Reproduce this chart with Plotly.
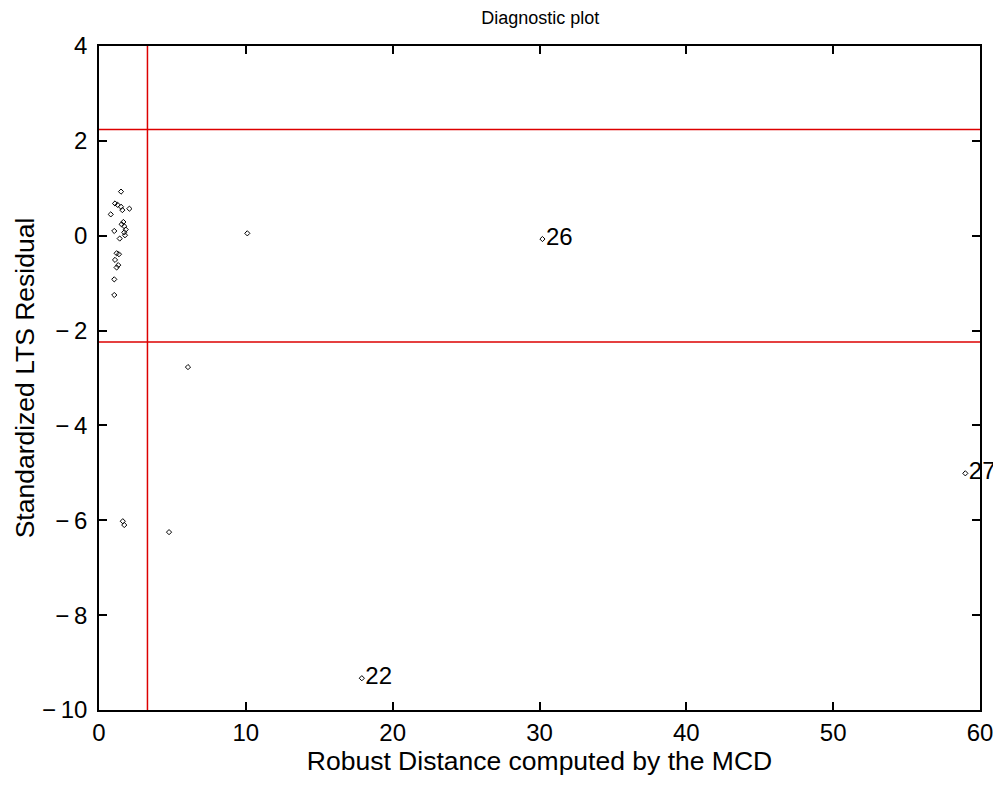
import plotly.graph_objects as go

# Robust distances (x) and standardized LTS residuals (y)
rd = [1.50, 1.09, 1.27, 1.50, 1.59, 2.07, 0.80, 1.66, 1.54, 1.72, 1.04, 1.82, 1.72,
      1.41, 1.77, 1.20, 1.36, 1.09, 1.31, 1.20, 1.04, 1.04,
      10.1, 6.06, 4.77, 1.62, 1.72]
res = [0.93, 0.68, 0.65, 0.61, 0.54, 0.57, 0.45, 0.29, 0.24, 0.20, 0.10, 0.13, 0.07,
       -0.06, 0.01, -0.37, -0.39, -0.51, -0.62, -0.67, -0.92, -1.25,
       0.05, -2.77, -6.25, -6.02, -6.10]

# Labelled outliers
lab_names = ["22", "26", "27"]
lab_x = [17.9, 30.2, 59.0]
lab_y = [-9.33, -0.07, -5.01]

cut_res = 2.24
cut_rd = 3.3

x_ticks = [0, 10, 20, 30, 40, 50, 60]
y_ticks = [-10, -8, -6, -4, -2, 0, 2, 4]
y_ticktext = [("\u2212\u2009" + str(abs(v))) if v < 0 else str(v) for v in y_ticks]

FONT = "Liberation Sans, Arial"

fig = go.Figure()
fig.add_trace(go.Scatter(x=rd, y=res, mode="markers",
                         marker=dict(symbol="diamond-open", size=4, color="black",
                                     line=dict(width=1, color="black")),
                         showlegend=False, hoverinfo="skip"))
fig.add_trace(go.Scatter(x=lab_x, y=lab_y, mode="markers+text", text=lab_names,
                         textposition="middle right",
                         textfont=dict(family=FONT, size=24, color="black"),
                         marker=dict(symbol="diamond-open", size=4, color="black",
                                     line=dict(width=1, color="black")),
                         showlegend=False, hoverinfo="skip", cliponaxis=False))

for v in [cut_res, -cut_res]:
    fig.add_shape(type="line", xref="paper", x0=0, x1=1, yref="y", y0=v, y1=v,
                  line=dict(color="#dd0000", width=1.5))
fig.add_shape(type="line", xref="x", x0=cut_rd, x1=cut_rd, yref="paper", y0=0, y1=1,
              line=dict(color="#dd0000", width=1.5))

axis_common = dict(showgrid=False, zeroline=False, showline=True, linecolor="black",
                   linewidth=1.5, mirror="ticks", ticks="inside", ticklen=8,
                   tickcolor="black", tickwidth=1.5, automargin=False,
                   tickfont=dict(family=FONT, size=24, color="black"))

fig.update_layout(
    width=993, height=777,
    margin=dict(l=91, r=21, t=38, b=75),
    paper_bgcolor="white", plot_bgcolor="white",
    title=dict(text="Diagnostic plot", x=0.536, xanchor="center", y=0.988, yanchor="middle",
               font=dict(family=FONT, size=18, color="black")),
    xaxis=dict(range=[0, 60], tickvals=x_ticks,
               title=dict(text="Robust Distance computed by the MCD", standoff=0,
                          font=dict(family=FONT, size=26.5, color="black")),
               **axis_common),
    yaxis=dict(range=[-10, 4], tickvals=y_ticks, ticktext=y_ticktext,
               ticklabelstandoff=5,
               title=dict(text="Standardized LTS Residual", standoff=0,
                          font=dict(family=FONT, size=26.5, color="black")),
               **axis_common),
)

fig.write_html("out.html")
